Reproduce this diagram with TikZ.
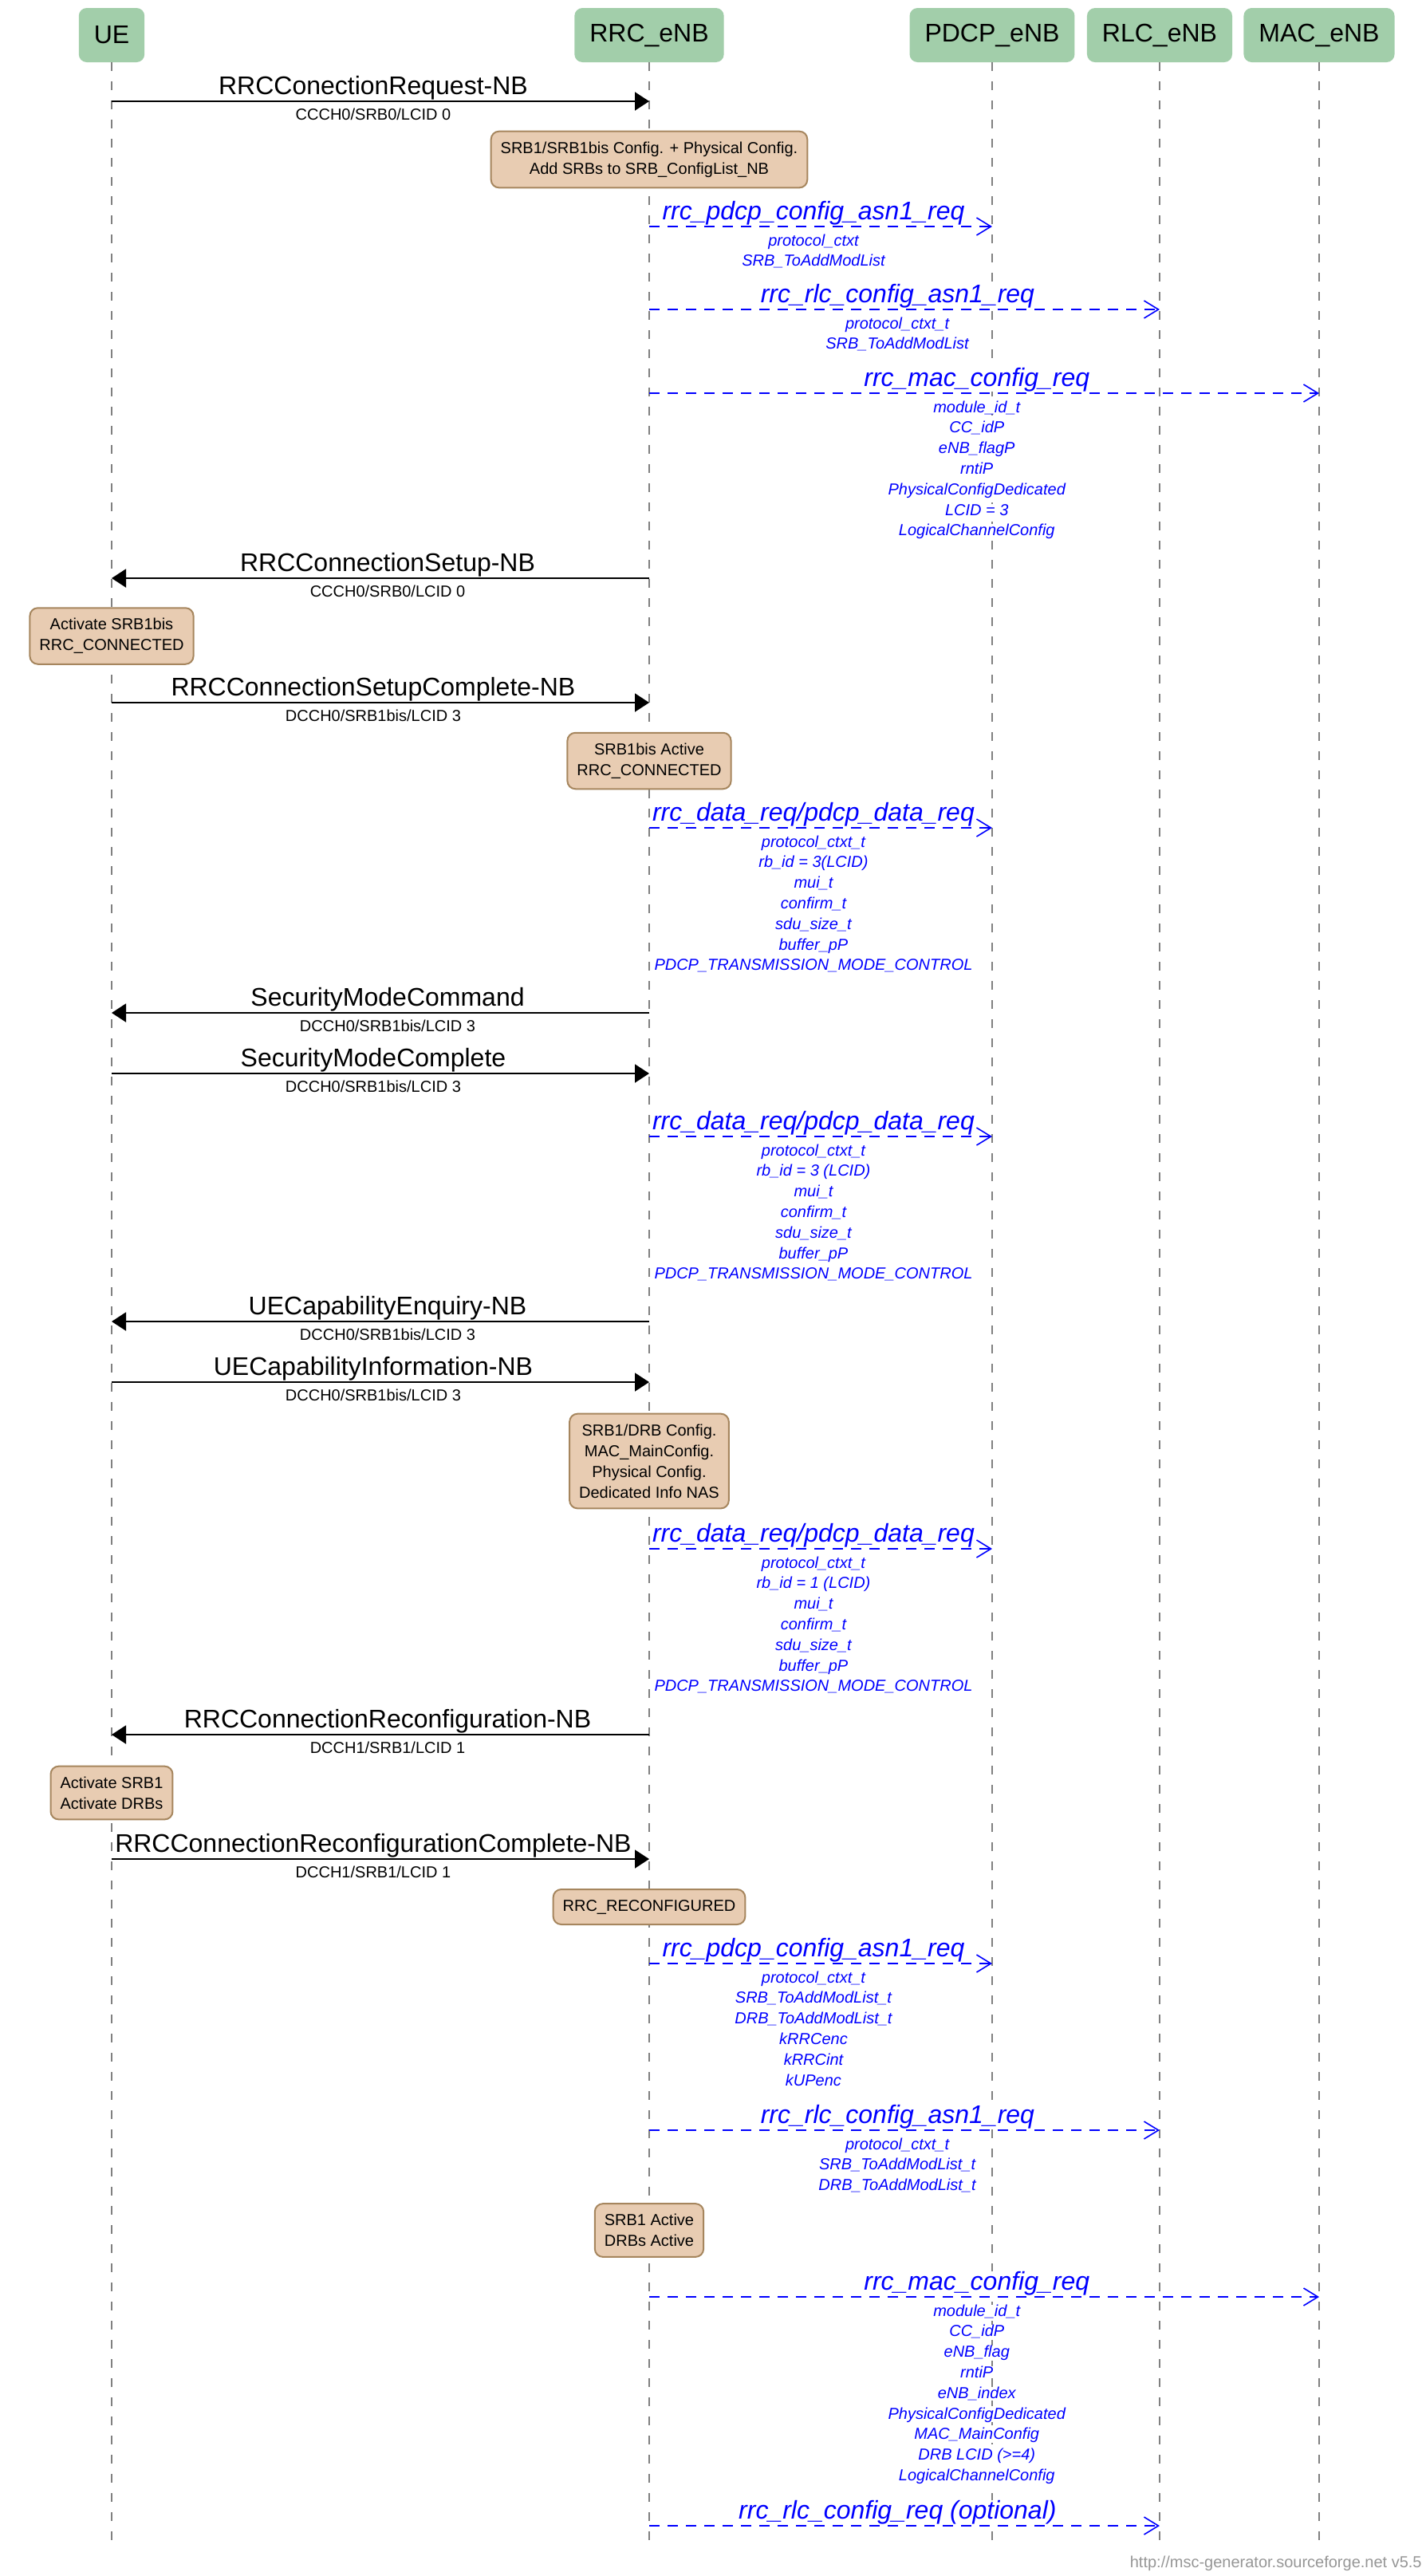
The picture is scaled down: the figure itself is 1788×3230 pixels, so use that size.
\documentclass[tikz,border=0pt]{standalone}
\usepackage{fontspec}
\setmainfont{Liberation Sans}
\usetikzlibrary{arrows.meta,calc}

\definecolor{entgreen}{RGB}{162,206,170}
\definecolor{notefill}{RGB}{232,204,178}
\definecolor{notedraw}{RGB}{166,134,94}
\definecolor{lifegray}{RGB}{128,128,128}
\definecolor{footgray}{RGB}{150,150,150}

\begin{document}
\begin{tikzpicture}[x=0.5pt,y=-0.5pt,
            entity/.style={fill=entgreen, rounded corners=5pt, minimum height=34pt, inner xsep=9.5pt, font=\fontsize{16}{18}\selectfont},
            life/.style={draw=lifegray, line width=1pt, dash pattern=on 5.5pt off 6.5pt},
            msg/.style={line width=1pt, -{Triangle[length=9pt,width=11.5pt]}},
            call/.style={blue, line width=0.8pt, dash pattern=on 6.5pt off 5pt, -{Straight Barb[length=9pt,width=11pt]}},
            lbl/.style={anchor=base, inner sep=0pt, pos=0.4866, yshift=4.5pt, font=\fontsize{16}{18}\selectfont},
            sublbl/.style={anchor=base, inner sep=0pt, pos=0.4866, yshift=-11.5pt, font=\fontsize{10}{12}\selectfont},
            fn/.style={lbl, text=blue, fill=white, font=\fontsize{16}{18}\selectfont\itshape},
            param/.style={anchor=base, inner sep=0pt, fill=white, text=blue, font=\fontsize{10}{12}\selectfont\itshape},
            note/.style={fill=notefill, draw=notedraw, line width=1pt, rounded corners=5pt, align=center, inner xsep=6pt, inner ysep=6.5pt, font=\fontsize{10}{13}\selectfont}
        ]
            \useasboundingbox (0,0) rectangle (1788,3230);

            % Entities
            \node[entity] (ue) at (140,44) {UE};
            \node[entity] (rrc) at (814,44) {RRC\_eNB};
            \node[entity] (pdcp) at (1244,44) {PDCP\_eNB};
            \node[entity] (rlc) at (1454,44) {RLC\_eNB};
            \node[entity] (mac) at (1654,44) {MAC\_eNB};

            % Lifelines
            \foreach \e in {ue,rrc,pdcp,rlc,mac} {
                \coordinate (\e-end) at (\e |- 0,3188);
                \draw[life] (\e.south) -- (\e-end);
            }

            % RRC connection request
            \coordinate (req-a) at (ue |- 0,127);
            \coordinate (req-b) at (rrc |- 0,127);
            \draw[msg] (req-a) -- node[lbl]{RRCConectionRequest-NB} node[sublbl]{CCCH0/SRB0/LCID 0} (req-b);
            \node[note] (cfg1) at (814,200) {SRB1/SRB1bis Config. + Physical Config.\\Add SRBs to SRB\_ConfigList\_NB};

            % First configuration of the lower layers
            \coordinate (pd1-a) at (rrc |- 0,284);
            \coordinate (pd1-b) at (pdcp |- 0,284);
            \draw[call] (pd1-a) -- coordinate[pos=0.479] (pd1) node[fn, pos=0.479]{rrc\_pdcp\_config\_asn1\_req} (pd1-b);
            \foreach \t [count=\i] in {protocol\_ctxt, SRB\_ToAddModList}
                \node[param] at ($(pd1)+(0,{24+25.8*(\i-1)})$) {\t};

            \coordinate (rl1-a) at (rrc |- 0,388);
            \coordinate (rl1-b) at (rlc |- 0,388);
            \draw[call] (rl1-a) -- coordinate[pos=0.486] (rl1) node[fn]{rrc\_rlc\_config\_asn1\_req} (rl1-b);
            \foreach \t [count=\i] in {protocol\_ctxt\_t, SRB\_ToAddModList}
                \node[param] at ($(rl1)+(0,{24+25.8*(\i-1)})$) {\t};

            \coordinate (ma1-a) at (rrc |- 0,493);
            \coordinate (ma1-b) at (mac |- 0,493);
            \draw[call] (ma1-a) -- coordinate[pos=0.489] (ma1) node[fn, pos=0.489]{rrc\_mac\_config\_req} (ma1-b);
            \foreach \t [count=\i] in {module\_id\_t, CC\_idP, eNB\_flagP, rntiP, PhysicalConfigDedicated, LCID = 3, LogicalChannelConfig}
                \node[param] at ($(ma1)+(0,{24+25.8*(\i-1)})$) {\t};

            % Connection setup
            \coordinate (set-a) at (rrc |- 0,725);
            \coordinate (set-b) at (ue |- 0,725);
            \draw[msg] (set-a) -- node[lbl]{RRCConnectionSetup-NB} node[sublbl]{CCCH0/SRB0/LCID 0} (set-b);
            \node[note] (act1) at (140,797.5) {Activate SRB1bis\\RRC\_CONNECTED};

            \coordinate (setc-a) at (ue |- 0,881);
            \coordinate (setc-b) at (rrc |- 0,881);
            \draw[msg] (setc-a) -- node[lbl]{RRCConnectionSetupComplete-NB} node[sublbl]{DCCH0/SRB1bis/LCID 3} (setc-b);
            \node[note] (conn) at (814,954) {SRB1bis Active\\RRC\_CONNECTED};

            \coordinate (dt1-a) at (rrc |- 0,1038);
            \coordinate (dt1-b) at (pdcp |- 0,1038);
            \draw[call] (dt1-a) -- coordinate[pos=0.479] (dt1) node[fn, pos=0.479]{rrc\_data\_req/pdcp\_data\_req} (dt1-b);
            \foreach \t [count=\i] in {protocol\_ctxt\_t, rb\_id = 3(LCID), mui\_t, confirm\_t, sdu\_size\_t, buffer\_pP, PDCP\_TRANSMISSION\_MODE\_CONTROL}
                \node[param] at ($(dt1)+(0,{24+25.8*(\i-1)})$) {\t};

            % Security mode
            \coordinate (smc-a) at (rrc |- 0,1270);
            \coordinate (smc-b) at (ue |- 0,1270);
            \draw[msg] (smc-a) -- node[lbl]{SecurityModeCommand} node[sublbl]{DCCH0/SRB1bis/LCID 3} (smc-b);

            \coordinate (smcc-a) at (ue |- 0,1346);
            \coordinate (smcc-b) at (rrc |- 0,1346);
            \draw[msg] (smcc-a) -- node[lbl]{SecurityModeComplete} node[sublbl]{DCCH0/SRB1bis/LCID 3} (smcc-b);

            \coordinate (dt2-a) at (rrc |- 0,1425);
            \coordinate (dt2-b) at (pdcp |- 0,1425);
            \draw[call] (dt2-a) -- coordinate[pos=0.479] (dt2) node[fn, pos=0.479]{rrc\_data\_req/pdcp\_data\_req} (dt2-b);
            \foreach \t [count=\i] in {protocol\_ctxt\_t, rb\_id = 3 (LCID), mui\_t, confirm\_t, sdu\_size\_t, buffer\_pP, PDCP\_TRANSMISSION\_MODE\_CONTROL}
                \node[param] at ($(dt2)+(0,{24+25.8*(\i-1)})$) {\t};

            % UE capability
            \coordinate (cape-a) at (rrc |- 0,1657);
            \coordinate (cape-b) at (ue |- 0,1657);
            \draw[msg] (cape-a) -- node[lbl]{UECapabilityEnquiry-NB} node[sublbl]{DCCH0/SRB1bis/LCID 3} (cape-b);

            \coordinate (capi-a) at (ue |- 0,1733);
            \coordinate (capi-b) at (rrc |- 0,1733);
            \draw[msg] (capi-a) -- node[lbl]{UECapabilityInformation-NB} node[sublbl]{DCCH0/SRB1bis/LCID 3} (capi-b);
            \node[note] (cfg2) at (814,1832) {SRB1/DRB Config.\\MAC\_MainConfig.\\Physical Config.\\Dedicated Info NAS};

            \coordinate (dt3-a) at (rrc |- 0,1942);
            \coordinate (dt3-b) at (pdcp |- 0,1942);
            \draw[call] (dt3-a) -- coordinate[pos=0.479] (dt3) node[fn, pos=0.479]{rrc\_data\_req/pdcp\_data\_req} (dt3-b);
            \foreach \t [count=\i] in {protocol\_ctxt\_t, rb\_id = 1 (LCID), mui\_t, confirm\_t, sdu\_size\_t, buffer\_pP, PDCP\_TRANSMISSION\_MODE\_CONTROL}
                \node[param] at ($(dt3)+(0,{24+25.8*(\i-1)})$) {\t};

            % Reconfiguration
            \coordinate (rcf-a) at (rrc |- 0,2175);
            \coordinate (rcf-b) at (ue |- 0,2175);
            \draw[msg] (rcf-a) -- node[lbl]{RRCConnectionReconfiguration-NB} node[sublbl]{DCCH1/SRB1/LCID 1} (rcf-b);
            \node[note] (act2) at (140,2248) {Activate SRB1\\Activate DRBs};

            \coordinate (rcfc-a) at (ue |- 0,2331);
            \coordinate (rcfc-b) at (rrc |- 0,2331);
            \draw[msg] (rcfc-a) -- node[lbl]{RRCConnectionReconfigurationComplete-NB} node[sublbl]{DCCH1/SRB1/LCID 1} (rcfc-b);
            \node[note] (reconf) at (814,2391) {RRC\_RECONFIGURED};

            \coordinate (pd2-a) at (rrc |- 0,2462);
            \coordinate (pd2-b) at (pdcp |- 0,2462);
            \draw[call] (pd2-a) -- coordinate[pos=0.479] (pd2) node[fn, pos=0.479]{rrc\_pdcp\_config\_asn1\_req} (pd2-b);
            \foreach \t [count=\i] in {protocol\_ctxt\_t, SRB\_ToAddModList\_t, DRB\_ToAddModList\_t, kRRCenc, kRRCint, kUPenc}
                \node[param] at ($(pd2)+(0,{24+25.8*(\i-1)})$) {\t};

            \coordinate (rl2-a) at (rrc |- 0,2671);
            \coordinate (rl2-b) at (rlc |- 0,2671);
            \draw[call] (rl2-a) -- coordinate[pos=0.486] (rl2) node[fn]{rrc\_rlc\_config\_asn1\_req} (rl2-b);
            \foreach \t [count=\i] in {protocol\_ctxt\_t, SRB\_ToAddModList\_t, DRB\_ToAddModList\_t}
                \node[param] at ($(rl2)+(0,{24+25.8*(\i-1)})$) {\t};
            \node[note] (active) at (814,2796.5) {SRB1 Active\\DRBs Active};

            \coordinate (ma2-a) at (rrc |- 0,2880);
            \coordinate (ma2-b) at (mac |- 0,2880);
            \draw[call] (ma2-a) -- coordinate[pos=0.489] (ma2) node[fn, pos=0.489]{rrc\_mac\_config\_req} (ma2-b);
            \foreach \t [count=\i] in {module\_id\_t, CC\_idP, eNB\_flag, rntiP, eNB\_index, PhysicalConfigDedicated, MAC\_MainConfig, DRB LCID (>=4), LogicalChannelConfig}
                \node[param] at ($(ma2)+(0,{24+25.8*(\i-1)})$) {\t};

            \coordinate (rl3-a) at (rrc |- 0,3167);
            \coordinate (rl3-b) at (rlc |- 0,3167);
            \draw[call] (rl3-a) -- node[fn]{rrc\_rlc\_config\_req (optional)} (rl3-b);

            % Footer
            \node[anchor=base east, inner sep=0pt, text=footgray, font=\fontsize{10}{12}\selectfont] (footer) at (1783,3219) {http://msc-generator.sourceforge.net v5.5};
        \end{tikzpicture}
\end{document}
